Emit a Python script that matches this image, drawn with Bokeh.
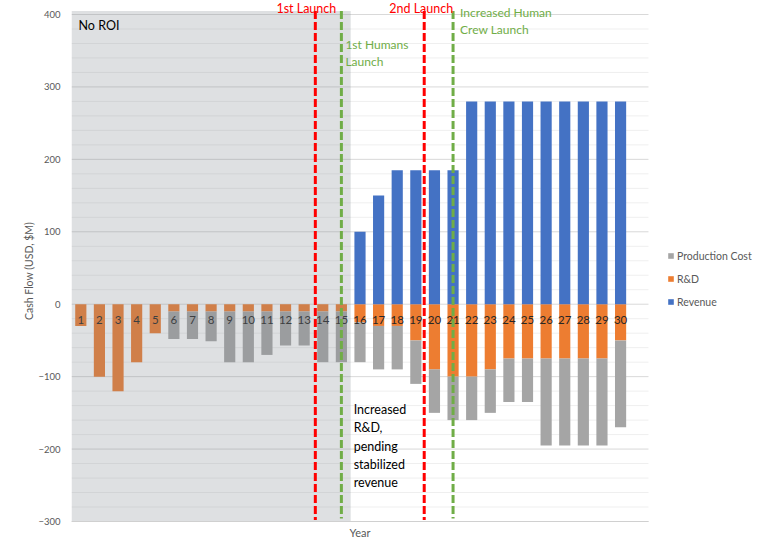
from bokeh.plotting import figure
from bokeh.models import Range1d, FixedTicker, ColumnDataSource, Legend, LegendItem
from bokeh.core.properties import value
from bokeh.embed import file_html
from bokeh.resources import INLINE

# ---- data ----
years = [1, 2, 3, 4, 5, 6, 7, 8, 9, 10, 11, 12, 13, 14, 15,
         16, 17, 18, 19, 20, 21, 22, 23, 24, 25, 26, 27, 28, 29, 30]
revenue = [0, 0, 0, 0, 0, 0, 0, 0, 0, 0, 0, 0, 0, 0, 0,
           100, 150, 185, 185, 185, 185, 280, 280, 280, 280, 280, 280, 280, 280, 280]
rnd = [-30, -100, -120, -80, -40, -10, -10, -10, -10, -10, -10, -10, -10, -10, -10,
       -25, -30, -30, -50, -90, -100, -100, -90, -75, -75, -75, -75, -75, -75, -50]
production = [0, 0, 0, 0, 0, -38, -38, -41, -70, -70, -60, -47, -47, -70, -70,
              -55, -60, -60, -60, -60, -60, -60, -60, -60, -60, -120, -120, -120, -120, -120]
y_ticks = [-300, -200, -100, 0, 100, 200, 300, 400]

# event markers (x in category units)
launch_x = [13.6, 19.45]
launch_text = ["1st Launch", "2nd Launch"]
crew_x = [15, 21]
crew_text = ["1st Humans\nLaunch", "Increased Human\nCrew Launch"]
no_roi_years = [1, 15]

# colours
C_REV, C_RND, C_PROD = "#4472C4", "#ED7D31", "#A5A5A5"
C_RED, C_GREEN = "#FF0000", "#70AD47"
FONT = value("Lato")

y_min, y_max = -300, 400
x_lo, x_hi = 0.5, 31.5          # category band of the plot area
line_top = 405
view_top = 419.33

p = figure(width=755, height=541,
           x_range=Range1d(x_lo, 37.249), y_range=Range1d(-327.61, view_top),
           x_axis_location=None,
           output_backend="svg", toolbar_location=None,
           min_border_left=71, min_border_right=0,
           min_border_top=0, min_border_bottom=0)
p.outline_line_color = None
p.background_fill_color = "white"
p.border_fill_color = "white"
p.xgrid.visible = False
p.ygrid.visible = False

# gridlines restricted to the plot area
minor = [t for t in range(y_min, y_max + 1, 20) if t not in y_ticks]
n_min, n_maj = len(minor), len(y_ticks)
p.segment(x0=[x_lo] * n_min, x1=[x_hi] * n_min, y0=minor, y1=minor,
          line_color="#EFEFEF", line_width=1)
p.segment(x0=[x_lo] * n_maj, x1=[x_hi] * n_maj, y0=y_ticks, y1=y_ticks,
          line_color="#D9D9D9", line_width=1)

# y axis
p.yaxis.ticker = FixedTicker(ticks=y_ticks)
p.yaxis.axis_line_color = None
p.yaxis.major_tick_line_color = None
p.yaxis.minor_tick_line_color = None
p.yaxis.major_tick_out = 0
p.yaxis.major_label_standoff = 11
p.yaxis.major_label_text_font = "Lato"
p.yaxis.major_label_text_font_size = "9.5px"
p.yaxis.major_label_text_color = "#595959"
p.yaxis.axis_label = "Cash Flow (USD, $M)"
p.yaxis.axis_label_text_font = "Lato"
p.yaxis.axis_label_text_font_size = "10.5px"
p.yaxis.axis_label_text_font_style = "normal"
p.yaxis.axis_label_text_color = "#595959"
p.yaxis.axis_label_standoff = 0

src = ColumnDataSource(dict(year=years, revenue=revenue, rnd=rnd, production=production,
                            zero=[0] * len(years), label=[str(y) for y in years]))

r_stack = p.vbar_stack(["rnd", "production"], x="year", width=0.6, source=src,
                       color=[C_RND, C_PROD], line_color=None)
r_rev = p.vbar(x="year", top="revenue", bottom=0, width=0.6, source=src,
               fill_color=C_REV, line_color=None)

# category labels at the zero line
p.text(x="year", y="zero", text="label", source=src, text_align="center",
       text_baseline="middle", y_offset=16, text_font=FONT, text_font_size="11.5px",
       text_color="#262626")

# "No ROI" shaded region
roi_left = no_roi_years[0] - 0.5
roi_right = no_roi_years[1] + 0.5
p.quad(left=[roi_left], right=[roi_right], bottom=[y_min], top=[line_top],
       fill_color="#7E868E", fill_alpha=0.26, line_color=None)

# bottom axis line and title
p.segment(x0=[x_lo], x1=[x_hi], y0=[y_min], y1=[y_min], line_color="#D0D0D0", line_width=1)
p.text(x=[(x_lo + x_hi) / 2], y=[y_min], text=["Year"], y_offset=11,
       text_align="center", text_baseline="middle", text_font=FONT,
       text_font_size="11px", text_color="#595959")

# event lines
p.segment(x0=launch_x, x1=launch_x, y0=[line_top] * 2, y1=[-298, -298],
          line_color=C_RED, line_width=3, line_dash="8 3")
p.segment(x0=crew_x, x1=crew_x, y0=[line_top] * 2, y1=[-296, -296],
          line_color=C_GREEN, line_width=3, line_dash="8 3")

# texts
p.text(x=[roi_left], y=[line_top], text=["No ROI"], x_offset=7, y_offset=15,
       text_baseline="middle", text_font=FONT, text_font_size="12.5px", text_color="black")
p.text(x=launch_x, y=[view_top] * 2, text=launch_text, x_offset=[-9, -3], y_offset=0,
       text_align="center", text_baseline="top", text_font=FONT,
       text_font_size="12.5px", text_color=C_RED)
p.text(x=crew_x, y=[line_top] * 2, text=crew_text, x_offset=[4, 7], y_offset=[26, -6],
       text_align="left", text_baseline="top", text_font=FONT,
       text_font_size="12px", text_color=C_GREEN, text_line_height=1.16)
p.text(x=[roi_right], y=[-135], text=["Increased\nR&D,\npending\nstabilized\nrevenue"],
       x_offset=3, text_align="left", text_baseline="top", text_font=FONT,
       text_font_size="12.5px", text_color="black", text_line_height=1.22)

legend = Legend(items=[LegendItem(label="Production Cost", renderers=[r_stack[1]]),
                       LegendItem(label="R&D", renderers=[r_stack[0]]),
                       LegendItem(label="Revenue", renderers=[r_rev])],
                location=(596, 231), padding=0, margin=0, spacing=6,
                glyph_width=7, glyph_height=7, label_height=17, label_standoff=3,
                label_text_font="Lato", label_text_font_size="10.5px",
                label_text_color="#595959", border_line_color=None,
                background_fill_alpha=0)
p.add_layout(legend)

open("out.html", "w").write(file_html(p, INLINE))
